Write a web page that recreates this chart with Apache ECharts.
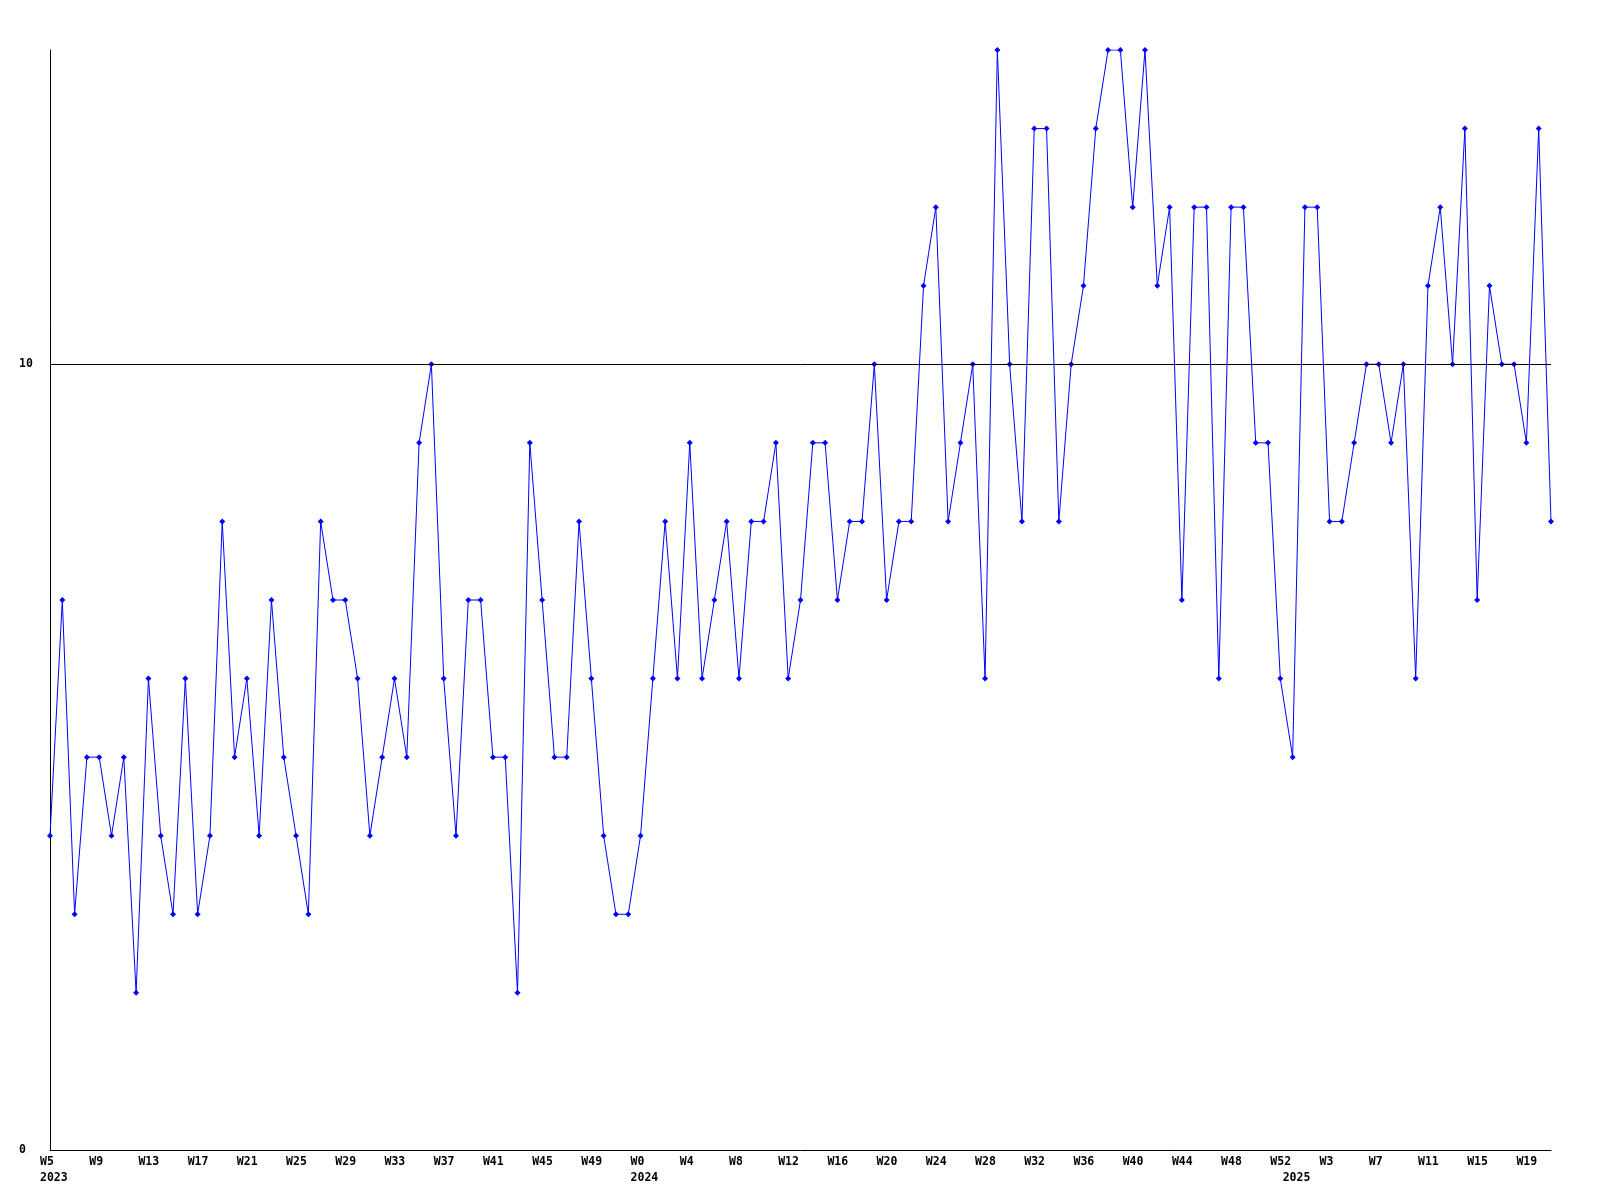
<!DOCTYPE html>
<html>
<head>
<meta charset="utf-8">
<script src="https://cdn.jsdelivr.net/npm/echarts@6/dist/echarts.min.js"></script>
<style>
html,body{margin:0;padding:0;background:#fff;}
#chart{width:1600px;height:1200px;}
</style>
</head>
<body>
<div id="chart"></div>
<script>
// Week categories (2023 W5 .. 2025 W21)
const weeks = [
  'W5','W6','W7','W8','W9','W10','W11','W12','W13','W14','W15','W16','W17','W18','W19','W20',
  'W21','W22','W23','W24','W25','W26','W27','W28','W29','W30','W31','W32','W33','W34','W35','W36',
  'W37','W38','W39','W40','W41','W42','W43','W44','W45','W46','W47','W48','W49','W50','W51','W52',
  'W0','W1','W2','W3','W4','W5','W6','W7','W8','W9','W10','W11','W12','W13','W14','W15',
  'W16','W17','W18','W19','W20','W21','W22','W23','W24','W25','W26','W27','W28','W29','W30','W31',
  'W32','W33','W34','W35','W36','W37','W38','W39','W40','W41','W42','W43','W44','W45','W46','W47',
  'W48','W49','W50','W51','W52',
  'W0','W1','W2','W3','W4','W5','W6','W7','W8','W9','W10','W11','W12','W13','W14','W15',
  'W16','W17','W18','W19','W20','W21'
];
// Year labels: category index -> year text
const yearIndex = [0, 48, 101];
const yearText = ['2023', '2024', '2025'];

const values = [
  4,7,3,5,5,4,5,2,6,4,3,6,3,4,8,5,
  6,4,7,5,4,3,8,7,7,6,4,5,6,5,9,10,
  6,4,7,7,5,5,2,9,7,5,5,8,6,4,3,3,
  4,6,8,6,9,6,7,8,6,8,8,9,6,7,9,9,
  7,8,8,10,7,8,8,11,12,8,9,10,6,14,10,8,
  13,13,8,10,11,13,14,14,12,14,11,12,7,12,12,6,
  12,12,9,9,6,5,12,12,8,8,9,10,10,9,10,6,
  11,12,10,13,7,11,10,10,9,13,8
];

const yTicks = [0, 10];
const refLine = 10;

const FONT = '"DejaVu Sans Mono", "Liberation Mono", monospace';

const chart = echarts.init(document.getElementById('chart'), null, {renderer: 'canvas'});
chart.setOption({
  backgroundColor: '#ffffff',
  animation: false,
  grid: {left: 50, right: 49, top: 50, bottom: 50, containLabel: false},
  xAxis: [
    {
      type: 'category',
      data: weeks,
      boundaryGap: false,
      position: 'bottom',
      axisLine: {show: true, onZero: false, lineStyle: {color: '#000', width: 1}},
      axisTick: {show: false},
      splitLine: {show: false},
      axisLabel: {
        interval: 3,
        align: 'left',
        padding: [0, 0, 0, -10],
        margin: 6,
        color: '#000',
        fontFamily: FONT,
        fontWeight: 'bold',
        fontSize: 11.5
      }
    },
    {
      type: 'category',
      data: weeks,
      boundaryGap: false,
      position: 'bottom',
      axisLine: {show: false},
      axisTick: {show: false},
      splitLine: {show: false},
      axisLabel: {
        interval: 0,
        align: 'left',
        padding: [0, 0, 0, -10],
        margin: 22,
        color: '#000',
        fontFamily: FONT,
        fontWeight: 'bold',
        fontSize: 11.5,
        formatter: function (v, idx) {
          const k = yearIndex.indexOf(idx);
          return k >= 0 ? yearText[k] : '';
        }
      }
    }
  ],
  yAxis: {
    type: 'value',
    min: yTicks[0],
    max: 14,
    interval: yTicks[1] - yTicks[0],
    axisLine: {show: true, lineStyle: {color: '#000', width: 1}},
    axisTick: {show: false},
    splitLine: {show: false},
    axisLabel: {
      showMaxLabel: false,
      align: 'left',
      margin: 31,
      color: '#000',
      fontFamily: FONT,
      fontWeight: 'bold',
      fontSize: 11.5
    }
  },
  series: [{
    type: 'line',
    data: values,
    xAxisIndex: 0,
    symbol: 'diamond',
    symbolSize: 6,
    showSymbol: true,
    showAllSymbol: true,
    lineStyle: {color: '#0000ff', width: 1},
    itemStyle: {color: '#0000ff'},
    emphasis: {disabled: true},
    markLine: {
      silent: true,
      symbol: 'none',
      label: {show: false},
      lineStyle: {color: '#000', width: 1, type: 'solid'},
      data: [{yAxis: refLine}]
    }
  }]
});
</script>
</body>
</html>
